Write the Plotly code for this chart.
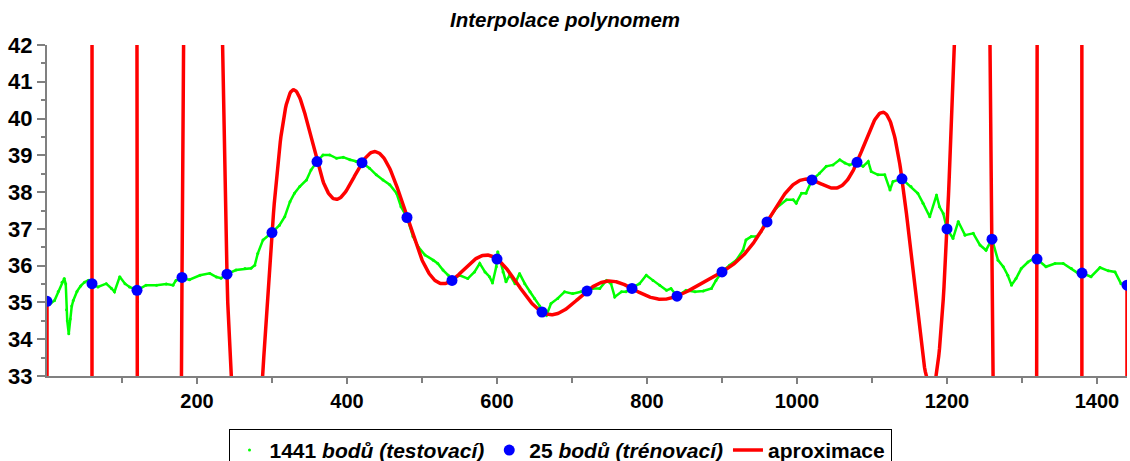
import numpy as np
import plotly.graph_objects as go

# trenovaci body (25)
train_x = list(range(0, 1441, 60))
train_y = [35.03, 35.51, 35.33, 35.68, 35.77, 36.90, 38.83, 38.80, 37.31, 35.60,
           36.18, 34.74, 35.31, 35.38, 35.17, 35.83, 37.19, 38.33, 38.81, 38.36,
           37.00, 36.72, 36.18, 35.80, 35.47]

# testovaci body
test_x = [0, 5, 10, 15, 20, 23, 25, 26, 27, 29, 31, 33, 35, 40, 45, 50, 55, 60,
          68, 79, 86, 90, 97, 104, 110, 120, 132, 146, 159, 168, 172, 180, 190,
          204, 217, 226, 232, 240, 252, 264, 272, 277, 281, 288, 300, 310, 317,
          324, 330, 337, 346, 352, 360, 368, 377, 386, 395, 404, 412, 420, 430,
          439, 448, 457, 466, 472, 480, 488, 495, 504, 515, 521, 528, 535, 541,
          550, 561, 570, 577, 584, 590, 594, 599, 601, 608, 612, 617, 624, 630,
          637, 644, 650, 657, 660, 666, 672, 681, 690, 701, 712, 720, 728, 737,
          746, 752, 757, 766, 772, 780, 790, 799, 808, 817, 826, 832, 840, 852,
          864, 875, 886, 892, 900, 910, 919, 928, 932, 939, 946, 952, 955, 960,
          972, 986, 995, 999, 1006, 1012, 1020, 1030, 1039, 1048, 1057, 1064,
          1070, 1080, 1088, 1095, 1099, 1108, 1117, 1124, 1128, 1140, 1152,
          1161, 1168, 1177, 1186, 1190, 1195, 1200, 1208, 1215, 1224, 1235,
          1244, 1252, 1260, 1268, 1275, 1281, 1286, 1292, 1299, 1308, 1316,
          1320, 1332, 1344, 1355, 1366, 1375, 1380, 1392, 1404, 1415, 1424,
          1432, 1440]
test_y = [35.03, 34.98, 35.05, 35.30, 35.55, 35.65, 35.50, 34.80, 34.50, 34.15,
          34.55, 34.90, 35.05, 35.30, 35.45, 35.55, 35.60, 35.50, 35.42, 35.51,
          35.38, 35.29, 35.70, 35.51, 35.42, 35.33, 35.47, 35.47, 35.50, 35.47,
          35.60, 35.66, 35.62, 35.74, 35.79, 35.69, 35.66, 35.77, 35.88, 35.92,
          35.93, 36.01, 36.33, 36.70, 36.90, 37.10, 37.33, 37.74, 37.97, 38.15,
          38.33, 38.60, 38.83, 39.01, 39.01, 38.92, 38.95, 38.88, 38.83, 38.80,
          38.65, 38.47, 38.33, 38.20, 37.97, 37.60, 37.31, 36.79, 36.51, 36.29,
          36.15, 36.06, 35.88, 35.74, 35.62, 35.74, 35.65, 35.83, 36.06, 35.83,
          35.70, 35.53, 35.97, 36.38, 35.83, 35.56, 35.75, 35.51, 35.79, 35.51,
          35.29, 35.11, 34.90, 34.77, 34.65, 34.97, 35.11, 35.29, 35.24, 35.29,
          35.31, 35.38, 35.38, 35.60, 35.51, 35.15, 35.29, 35.29, 35.40, 35.51,
          35.74, 35.60, 35.47, 35.33, 35.38, 35.17, 35.33, 35.29, 35.31, 35.38,
          35.60, 35.83, 36.01, 36.15, 36.42, 36.70, 36.79, 36.79, 36.92, 37.06,
          37.19, 37.56, 37.79, 37.79, 37.70, 37.97, 37.97, 38.33, 38.51, 38.70,
          38.74, 38.88, 38.79, 38.74, 38.80, 38.70, 38.83, 38.56, 38.47, 38.47,
          38.06, 38.29, 38.36, 38.15, 37.97, 37.70, 37.33, 37.92, 37.60, 37.42,
          37.00, 36.74, 37.20, 36.83, 36.88, 36.56, 36.42, 36.72, 36.15, 35.97,
          35.74, 35.47, 35.65, 35.92, 36.10, 36.20, 36.18, 35.97, 36.06, 36.06,
          35.92, 35.79, 35.80, 35.70, 35.95, 35.86, 35.83, 35.51, 35.47]

# interpolacni polynom stupne 24 pres trenovaci body
poly = np.polynomial.Polynomial.fit(train_x, train_y, len(train_x) - 1)
approx_x = np.arange(0, 1441)
approx_y = poly(approx_x)

font_main = "Liberation Sans, Arial, sans-serif"

fig = go.Figure()

fig.add_trace(go.Scatter(
    x=test_x, y=test_y, mode="lines", showlegend=False, hoverinfo="skip",
    line=dict(color="#00FF00", width=2.5)
))
fig.add_trace(go.Scatter(
    x=test_x, y=test_y, mode="markers", legendrank=1,
    name="1441 <i>bodů (testovací)</i>",
    marker=dict(color="#00FF00", size=3)
))
fig.add_trace(go.Scatter(
    x=approx_x, y=approx_y, mode="lines", legendrank=3,
    name="aproximace",
    line=dict(color="#FF0000", width=3.5)
))
fig.add_trace(go.Scatter(
    x=train_x, y=train_y, mode="markers", legendrank=2,
    name="25 <i>bodů (trénovací)</i>",
    marker=dict(color="#0000FF", size=11)
))

fig.update_layout(
    width=1130, height=461,
    paper_bgcolor="white", plot_bgcolor="white",
    margin=dict(l=47, r=3, t=45, b=85, autoexpand=False),
    title=dict(text="<b><i>Interpolace polynomem</i></b>", x=0.5, xanchor="center",
               y=1 - 20 / 461, yanchor="middle",
               font=dict(family=font_main, size=20.5, color="black")),
    showlegend=True,
    legend=dict(
        orientation="h", x=0.475, xanchor="center", y=-0.16, yanchor="top",
        bordercolor="black", borderwidth=1,
        font=dict(family=font_main, size=21, color="black", weight="bold"),
        itemwidth=30,
    ),
    xaxis=dict(
        range=[0, 1440], showgrid=False, zeroline=False, automargin=False,
        showline=True, linecolor="#808080", linewidth=2,
        ticks="outside", tickcolor="#808080", ticklen=6, tickwidth=1.5,
        tickvals=[200, 400, 600, 800, 1000, 1200, 1400],
        minor=dict(tickvals=[100, 300, 500, 700, 900, 1100, 1300], ticks="outside",
                   ticklen=5, tickcolor="#808080"),
        tickfont=dict(family=font_main, size=20, color="black", weight="bold"),
    ),
    yaxis=dict(
        range=[33, 42], showgrid=False, zeroline=False, automargin=False,
        showline=True, linecolor="#808080", linewidth=2,
        ticks="outside", tickcolor="#808080", ticklen=8, tickwidth=1.5,
        dtick=1, minor=dict(dtick=0.5, ticks="outside", ticklen=4, tickcolor="#808080"),
        tickfont=dict(family=font_main, size=22, color="black", weight="bold"),
    ),
)

fig.write_html("out.html", config={"displayModeBar": False},
               post_script="document.body.style.margin='0';")
